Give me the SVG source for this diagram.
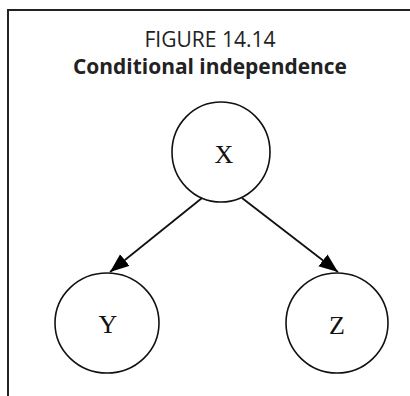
<svg xmlns="http://www.w3.org/2000/svg" width="410" height="396" viewBox="0 0 410 396">
  <defs>
    <style>
      .frame{fill:none;stroke:#222;stroke-width:2}
      .node{fill:none;stroke:#111;stroke-width:1.6}
      .lbl{font-family:"Liberation Serif","Times New Roman",serif;font-size:26px;fill:#111;text-anchor:middle}
      .edge{stroke:#111;stroke-width:1.8;fill:none}
      .title{font-family:"Open Sans","Noto Sans",sans-serif;font-size:21px;fill:#222;text-anchor:middle}
    </style>
    <marker id="arr" markerUnits="userSpaceOnUse" markerWidth="20" markerHeight="16" refX="19" refY="7.5" orient="auto">
      <path d="M0,0 L19,7.5 L0,15 Z" fill="#000"/>
    </marker>
  </defs>
  <rect width="410" height="396" fill="#fff"/>
  <path class="frame" d="M8,396 V10 H410"/>
  <text class="title" x="210" y="47" textLength="131" lengthAdjust="spacingAndGlyphs">FIGURE 14.14</text>
  <text class="title" x="210" y="74" font-weight="bold" textLength="274" lengthAdjust="spacingAndGlyphs">Conditional independence</text>
  <g id="edges">
    <line class="edge" x1="202" y1="198" x2="110" y2="272" marker-end="url(#arr)"/>
    <line class="edge" x1="242" y1="198" x2="338" y2="272" marker-end="url(#arr)"/>
  </g>
  <g id="nodeX">
    <ellipse class="node" cx="221" cy="152" rx="49" ry="50"/>
    <text class="lbl" x="224" y="163">X</text>
  </g>
  <g id="nodeY">
    <ellipse class="node" cx="107" cy="323" rx="52" ry="50"/>
    <text class="lbl" x="108" y="333">Y</text>
  </g>
  <g id="nodeZ">
    <ellipse class="node" cx="337" cy="323" rx="51" ry="50"/>
    <text class="lbl" x="337" y="334">Z</text>
  </g>
</svg>
